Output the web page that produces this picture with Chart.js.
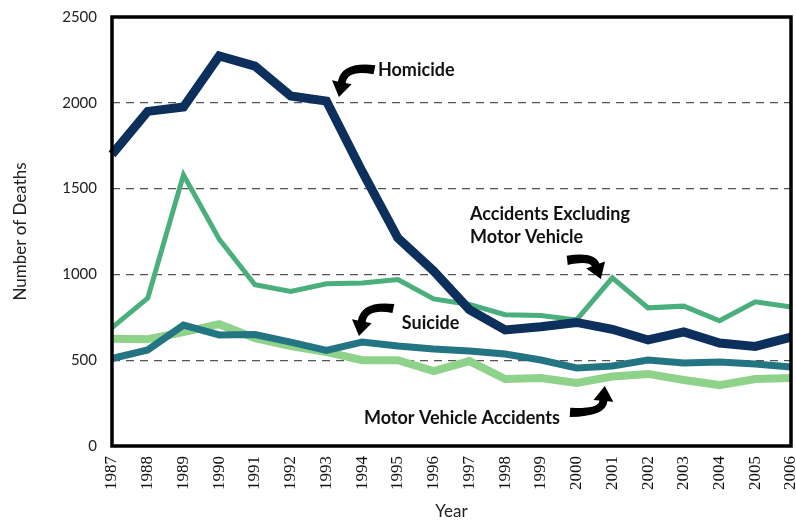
<!DOCTYPE html>
<html>
<head>
<meta charset="utf-8">
<script src="https://cdn.jsdelivr.net/npm/chart.js@4/dist/chart.umd.min.js"></script>
<style>
html,body{margin:0;padding:0;background:#fff;}
#wrap{width:796px;height:522px;}
</style>
</head>
<body>
<div id="wrap"><canvas id="c" width="796" height="522"></canvas></div>
<script>
const years = ['1987','1988','1989','1990','1991','1992','1993','1994','1995','1996','1997','1998','1999','2000','2001','2002','2003','2004','2005','2006'];
const homicide = [1700,1950,1975,2273,2214,2040,2010,1600,1212,1020,795,676,695,720,680,618,665,600,580,635];
const accidentsExclMV = [690,862,1580,1205,940,900,945,950,970,857,825,765,760,735,980,805,815,730,840,810];
const suicide = [510,560,705,647,650,605,557,606,583,565,554,536,501,455,466,501,484,490,478,460];
const motorVehicle = [625,622,664,710,629,583,548,500,500,437,495,390,396,367,405,420,385,355,390,396];
const yTicks = [0,500,1000,1500,2000,2500];

// annotations: label positions and arrows in data coordinates (year index, value)
const annotations = [
  {lines:['Homicide'], x:7.44, y:2191, arrow:{from:[7.33,2179], ctrl:[6.52,2214], to:[6.35,2034]}},
  {lines:['Accidents Excluding','Motor Vehicle'], x:10.02, y:1352, arrow:{from:[12.73,1096], ctrl:[13.43,1113], to:[13.68,973]}},
  {lines:['Suicide'], x:8.11, y:717, arrow:{from:[7.86,787], ctrl:[7.08,822], to:[6.91,641]}},
  {lines:['Motor Vehicle Accidents'], x:7.05, y:163, arrow:{from:[12.82,210], ctrl:[13.72,198], to:[13.79,350]}}
];

function drawArrow(ctx, s, c, t) {
  const tx = t[0]-c[0], ty = t[1]-c[1];
  const tl = Math.hypot(tx,ty);
  const ux = tx/tl, uy = ty/tl;
  const headLen = 15, headW = 10;
  const base = [t[0]-ux*headLen, t[1]-uy*headLen];
  const sx = c[0]-s[0], sy = c[1]-s[1];
  const sl = Math.hypot(sx,sy);
  const nsx = -sy/sl, nsy = sx/sl;
  const nbx = -uy, nby = ux;
  const w0 = 7, w1 = 4;
  ctx.save();
  ctx.fillStyle = '#000';
  ctx.beginPath();
  ctx.moveTo(s[0]+nsx*w0, s[1]+nsy*w0);
  ctx.quadraticCurveTo(c[0]+(nsx+nbx)*w0*0.6, c[1]+(nsy+nby)*w0*0.6, base[0]+nbx*w1, base[1]+nby*w1);
  ctx.lineTo(base[0]+nbx*headW, base[1]+nby*headW);
  ctx.lineTo(t[0], t[1]);
  ctx.lineTo(base[0]-nbx*headW, base[1]-nby*headW);
  ctx.lineTo(base[0]-nbx*w1, base[1]-nby*w1);
  ctx.quadraticCurveTo(c[0]-(nsx+nbx)*w0*0.4, c[1]-(nsy+nby)*w0*0.4, s[0]-nsx*w0*0.3, s[1]-nsy*w0*0.3);
  ctx.closePath();
  ctx.fill();
  ctx.restore();
}

const overlay = {
  id:'overlay',
  afterDatasetsDraw(chart) {
    const ctx = chart.ctx, a = chart.chartArea;
    const xs = chart.scales.x, ys = chart.scales.y;
    const px = v => xs.left + (xs.right - xs.left) * v / (years.length - 1);
    const py = v => ys.getPixelForValue(v);
    ctx.save();
    ctx.font = 'bold 18px Lato';
    ctx.fillStyle = '#111';
    ctx.textBaseline = 'middle';
    ctx.textAlign = 'left';
    annotations.forEach(an => {
      an.lines.forEach((ln, i) => {
        ctx.fillText(ln, px(an.x), py(an.y) + i*23);
      });
      const ar = an.arrow;
      drawArrow(ctx, [px(ar.from[0]), py(ar.from[1])], [px(ar.ctrl[0]), py(ar.ctrl[1])], [px(ar.to[0]), py(ar.to[1])]);
    });
    ctx.lineWidth = 3.5;
    ctx.strokeStyle = '#000';
    ctx.strokeRect(a.left, a.top, a.right - a.left, a.bottom - a.top);
    ctx.restore();
  }
};

new Chart(document.getElementById('c'), {
  type:'line',
  data:{
    labels: years,
    datasets:[
      {label:'Homicide', data:homicide, borderColor:'#0c2f5b', borderWidth:9},
      {label:'Suicide', data:suicide, borderColor:'#237583', borderWidth:7},
      {label:'Accidents Excluding Motor Vehicle', data:accidentsExclMV, borderColor:'#4aaf7c', borderWidth:5},
      {label:'Motor Vehicle Accidents', data:motorVehicle, borderColor:'#8fd38b', borderWidth:8}
    ].map(d => Object.assign(d, {pointRadius:0, pointHoverRadius:0, tension:0, fill:false, borderJoinStyle:'miter', borderCapStyle:'butt'}))
  },
  options:{
    responsive:false,
    animation:false,
    events:[],
    layout:{padding:{left:10, right:5, top:17, bottom:0}},
    plugins:{legend:{display:false}, tooltip:{enabled:false}},
    scales:{
      x:{
        offset:false,
        grid:{display:false, drawTicks:false},
        border:{display:false},
        ticks:{minRotation:90, maxRotation:90, autoSkip:false, padding:10, color:'#111', font:{family:'Liberation Serif', size:17}},
        title:{display:true, text:'Year', color:'#222', font:{family:'Lato', size:17}, padding:{top:0, bottom:0}},
        afterFit(s){ s.height = 76; s.paddingLeft = 0; s.paddingRight = 0; }
      },
      y:{
        min:0, max:2500,
        afterBuildTicks(s){ s.ticks = yTicks.map(v => ({value:v})); },
        grid:{drawTicks:false, color:'#555', lineWidth:1.3},
        border:{display:false, dash:[8,6]},
        ticks:{padding:15, color:'#222', font:{family:'Lato', size:15}, callback:(v) => String(v)},
        title:{display:true, text:'Number of Deaths', color:'#222', font:{family:'Lato', size:17}, padding:{top:0, bottom:0}},
        afterFit(s){ s.width = 102; s.paddingTop = 0; s.paddingBottom = 0; }
      }
    }
  },
  plugins:[overlay]
});
</script>
</body>
</html>
